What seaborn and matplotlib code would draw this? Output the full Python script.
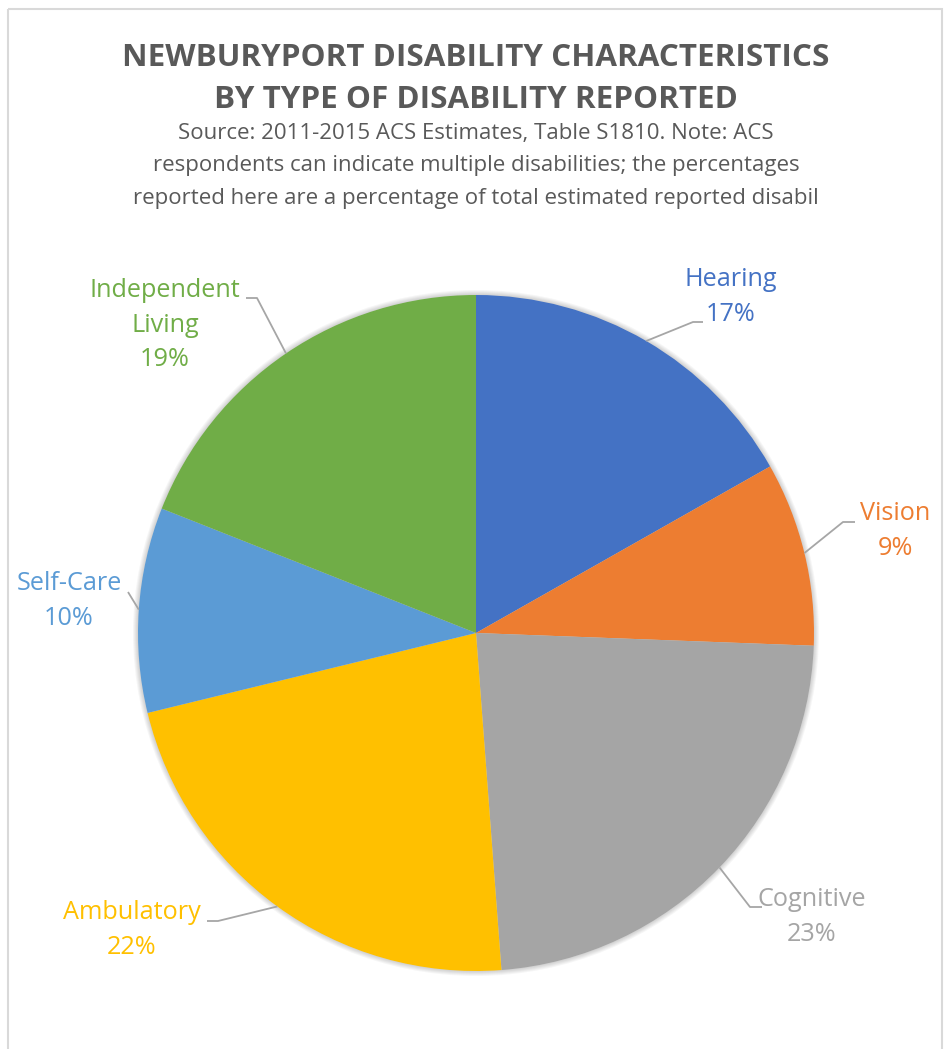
import numpy as np
import seaborn as sns
from matplotlib import pyplot as plt
from matplotlib.patches import Rectangle, Circle

# data (clockwise from 12 o'clock)
categories = ['Hearing', 'Vision', 'Cognitive', 'Ambulatory', 'Self-Care',
              'Independent\nLiving']
shares = [16.8, 8.8, 23.2, 22.4, 9.8, 19.0]
pct_labels = ['17%', '9%', '23%', '22%', '10%', '19%']
colors = ['#4472C4', '#ED7D31', '#A5A5A5', '#FFC000', '#5B9BD5', '#70AD47']

title = 'NEWBURYPORT DISABILITY CHARACTERISTICS\nBY TYPE OF DISABILITY REPORTED'
subtitle = ('Source: 2011-2015 ACS Estimates, Table S1810. Note: ACS\n'
            'respondents can indicate multiple disabilities; the percentages\n'
            'reported here are a percentage of total estimated reported disabil')

W, H = 948, 1049
cx, cy, R = 476, 633, 338

# label placement (pixel coords): text centre, knee of leader, end of leader
label_pos = [(731, 297), (895, 531), (812, 917), (132, 930), (69, 601), (165, 325)]
knees = [(693, 322), (843, 522), (750, 907), (218, 921), (128, 592), (257, 298)]
ends = [(703, 322), (855, 522), (762, 907), (207, 921), (128, 592), (246, 298)]

sns.set_theme(style='white')
plt.rcParams['font.family'] = ['Open Sans', 'DejaVu Sans']

fig = plt.figure(figsize=(W / 100, H / 100), dpi=100)
ax = fig.add_axes([0, 0, 1, 1])

# soft shadow round the pie
for k in range(1, 6):
    ax.add_patch(Circle((cx, cy), R + k, color='black', alpha=0.035,
                        linewidth=0, zorder=0))

# y axis points down, so counterclock in data = clockwise on screen
ax.pie(shares, colors=colors, center=(cx, cy), radius=R, startangle=-90,
       counterclock=True, wedgeprops=dict(linewidth=0, zorder=1))
ax.set_xlim(0, W)
ax.set_ylim(H, 0)
ax.set_aspect('auto')
ax.axis('off')

# chart border
ax.add_patch(Rectangle((8, 9), 934, 1060, fill=False, edgecolor='#D9D9D9',
                       linewidth=1.5))

cum = np.cumsum([0] + shares[:-1])
for i, name in enumerate(categories):
    phi = np.deg2rad((cum[i] + shares[i] / 2) / 100 * 360)
    sx, sy = cx + R * np.sin(phi), cy - R * np.cos(phi)
    ax.plot([sx, knees[i][0], ends[i][0]], [sy, knees[i][1], ends[i][1]],
            color='#A6A6A6', linewidth=1.3, solid_capstyle='butt', zorder=2)
    ax.text(label_pos[i][0], label_pos[i][1], name + '\n' + pct_labels[i],
            ha='center', va='center', fontsize=18.2, color=colors[i],
            linespacing=1.5)

ax.text(476, 79, title, ha='center', va='center', fontsize=22.6,
        fontweight='bold', color='#595959', linespacing=1.5)
ax.text(476, 166, subtitle, ha='center', va='center', fontsize=16,
        color='#595959', linespacing=1.72)

fig.savefig('out.png', dpi=100, facecolor='white')
